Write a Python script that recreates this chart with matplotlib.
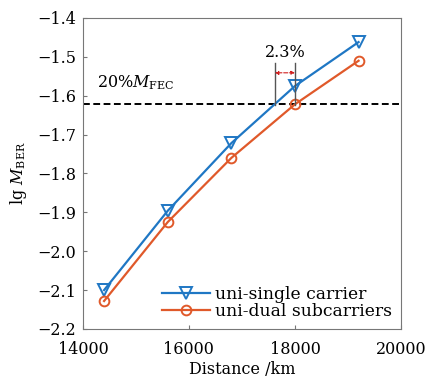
import matplotlib
matplotlib.use("Agg")
import matplotlib.pyplot as plt
import numpy as np

plt.rcParams['font.family'] = ['DejaVu Serif']
plt.rcParams['mathtext.fontset'] = 'dejavuserif'

# data
distance = [14400, 15600, 16800, 18000, 19200]
single_carrier = [-2.10, -1.896, -1.722, -1.575, -1.462]
dual_subcarriers = [-2.128, -1.925, -1.760, -1.622, -1.510]
fec_limit = -1.62
cross_single = 17620   # where single carrier hits the FEC line
cross_dual = 18000

blue = '#1f77c4'
red = '#e0592a'

fig = plt.figure(figsize=(4.25, 3.81), dpi=100)
ax = fig.add_axes([0.195, 0.1365, 0.7485, 0.8163])

ax.plot(distance, single_carrier, color=blue, lw=1.6, marker='v', ms=8,
        mfc='none', mew=1.4, label='uni-single carrier')
ax.plot(distance, dual_subcarriers, color=red, lw=1.6, marker='o', ms=7,
        mfc='none', mew=1.4, label='uni-dual subcarriers')

ax.axhline(fec_limit, color='black', ls=(0, (3.5, 1.8)), lw=1.4, zorder=1)
ax.text(14270, -1.578, r'20%$M_{\mathrm{FEC}}$', fontsize=11.5, va='baseline')

# 2.3% gap marker
for xv in [cross_single, cross_dual]:
    ax.plot([xv, xv], [-1.515, -1.625], color='#555555', lw=1.0)
ax.annotate('', xy=(cross_single, -1.541), xytext=(cross_dual, -1.541),
            arrowprops=dict(arrowstyle='<|-|>', color='#d02020', lw=0.8,
                            ls='--', mutation_scale=5, shrinkA=0, shrinkB=0))
ax.text((cross_single + cross_dual) / 2, -1.49, '2.3%', fontsize=11.5,
        ha='center', va='center')

ax.set_xlim(14000, 20000)
ax.set_ylim(-2.2, -1.4)
ax.set_xticks([14000, 16000, 18000, 20000])
ax.set_yticks(np.arange(-2.2, -1.35, 0.1))
ax.tick_params(direction='in', length=3, labelsize=11.5, color='#777777')
ax.tick_params(axis='x', pad=9)
ax.tick_params(axis='y', pad=5)
for s in ax.spines.values():
    s.set_color('#777777')

ax.set_xlabel('Distance /km', fontsize=11.5, labelpad=2)
ax.set_ylabel(r'lg $M_{\mathrm{BER}}$', fontsize=11.5, labelpad=6)

ax.legend(loc='lower right', frameon=False, fontsize=12.3, handlelength=2.8,
          handletextpad=0.3, labelspacing=0.05, borderaxespad=0.1)

fig.savefig('out.png', dpi=100)
